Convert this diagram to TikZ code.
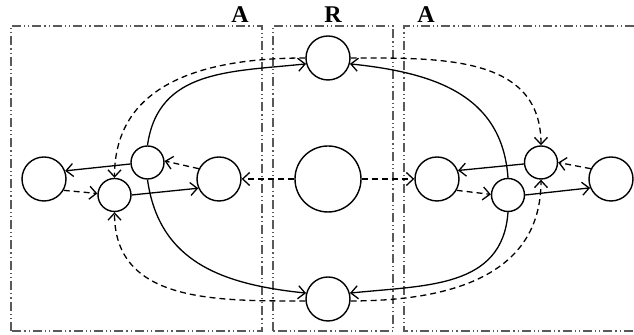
\documentclass[tikz,border=0pt]{standalone}
\usepackage{fontspec}
\setmainfont{Liberation Serif}
\usetikzlibrary{arrows.meta}
\tikzset{
  state/.style={circle, draw, line width=0.7pt, inner sep=0pt},
  small/.style={state, minimum size=16.5pt},
  medium/.style={state, minimum size=22pt},
  large/.style={state, minimum size=33pt},
  frame/.style={gray!70!black, line width=0.55pt,
    dash pattern=on 4.5pt off 1.5pt on 0.6pt off 1.5pt on 0.6pt off 1.5pt},
  link/.style={line width=0.65pt, -{Straight Barb[length=3.5pt,width=6.5pt]}},
  weak/.style={link, dash pattern=on 3pt off 2pt},
  title/.style={font=\fontsize{12}{14}\selectfont\bfseries}
}
\begin{document}
\begin{tikzpicture}[x=0.5pt, y=0.5pt]
    % Fix the bounding box (634 x 335 px)
    \useasboundingbox (0, 0) rectangle (634, 335);

    % Region frames
    \draw[frame] (11, 4) rectangle (262, 309);% left A
    \draw[frame] (273, 4) rectangle (393, 309);% R
    \draw[frame] (634, 309) -- (404, 309) -- (404, 4) -- (634, 4);% right A

    \node[title] (tA1) at (240, 320) {A};
    \node[title] (tR) at (333, 320) {R};
    \node[title] (tA2) at (426, 320) {A};

    % Nodes of region R
    \node[medium] (Rtop) at (328, 277) {};
    \node[large] (Rmid) at (328, 156) {};
    \node[medium] (Rbot) at (328, 36) {};

    % Nodes of the left A
    \node[medium] (L1) at (44, 156) {};
    \node[small] (L2) at (114.5, 140) {};
    \node[small] (L3) at (147.5, 172.5) {};
    \node[medium] (L4) at (219, 156) {};

    % Nodes of the right A
    \node[medium] (R1) at (437, 156) {};
    \node[small] (R2) at (508, 140) {};
    \node[small] (R3) at (541, 172.5) {};
    \node[medium] (R4) at (611, 156) {};

    % Left A, inner links
    \draw[link] (L3.185) -- (L1.21);
    \draw[weak] (L1.330) -- (L2.175);
    \draw[link] (L2.east) -- (L4.204);
    \draw[weak] (L4.153) -- (L3.5);
    \draw[weak] (Rmid.west) -- (L4.east);

    % Right A, inner links
    \draw[link] (R3.185) -- (R1.22);
    \draw[weak] (R1.330) -- (R2.178);
    \draw[link] (R2.east) -- (R4.203);
    \draw[weak] (R4.153) -- (R3.east);
    \draw[weak] (Rmid.east) -- (R1.west);

    % Long links, left
    \draw[link] (L3.north) to[out=82, in=186, looseness=1.1] (Rtop.195);
    \draw[weak] (Rtop.west) to[out=180, in=90, looseness=1.1] (L2.north);
    \draw[link] (L3.south) to[out=-82, in=174, looseness=1.1] (Rbot.165);
    \draw[weak] (Rbot.185) to[out=180, in=-90, looseness=1.1] (L2.south);

    % Long links, right
    \draw[link] (R2.north) to[out=94, in=-6, looseness=1.1] (Rtop.-15);
    \draw[weak] (Rtop.east) to[out=0, in=90, looseness=1.1] (R3.north);
    \draw[link] (R2.south) to[out=-94, in=6, looseness=1.1] (Rbot.15);
    \draw[weak] (Rbot.-5) to[out=0, in=-90, looseness=1.1] (R3.south);
\end{tikzpicture}
\end{document}
